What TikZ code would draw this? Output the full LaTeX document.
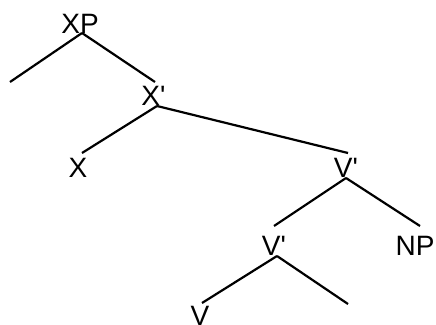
\documentclass[tikz,border=0pt]{standalone}
\usepackage{fontspec}
\newfontfamily\treefont{Liberation Sans}
\begin{document}
\begin{tikzpicture}[x=1pt,y=-1pt,
  lbl/.style={anchor=base,inner sep=0pt,font=\treefont\fontsize{28}{30}\selectfont},
  edge/.style={line width=2.2pt}]
\useasboundingbox (0,0) rectangle (436,324);
% labels
\node[lbl] (xp) at (80,33) {XP};
\node[lbl] (xbar) at (153.5,105) {X'};
\node[lbl] (x) at (78,177) {X};
\node[lbl] (vbar1) at (346,177) {V'};
\node[lbl] (vbar2) at (274,255) {V'};
\node[lbl] (np) at (415,255) {NP};
\node[lbl] (v) at (200,325) {V};
% branching points and free ends
\coordinate (xpv) at (82,33);
\coordinate (spec) at (10,82);
\coordinate (xbarv) at (157,106);
\coordinate (xbartop) at (155,82);
\coordinate (xtop) at (82,153);
\coordinate (vbar1top) at (348,153);
\coordinate (vbar1v) at (346,178);
\coordinate (vbar2top) at (274,226);
\coordinate (nptop) at (420,226);
\coordinate (vbar2v) at (277,256);
\coordinate (vtop) at (202,303);
\coordinate (comp) at (348,304);
% edges
\draw[edge] (xpv) -- (spec);
\draw[edge] (xpv) -- (xbartop);
\draw[edge] (xbarv) -- (xtop);
\draw[edge] (xbarv) -- (vbar1top);
\draw[edge] (vbar1v) -- (vbar2top);
\draw[edge] (vbar1v) -- (nptop);
\draw[edge] (vbar2v) -- (vtop);
\draw[edge] (vbar2v) -- (comp);
\end{tikzpicture}
\end{document}
